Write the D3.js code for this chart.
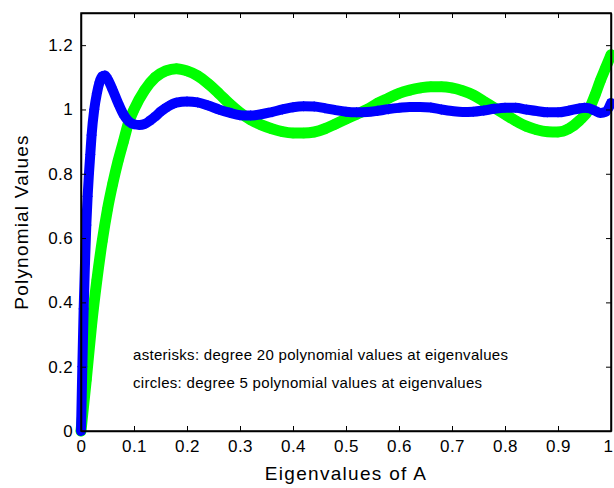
<!DOCTYPE html>
<html>
<head>
<meta charset="utf-8">
<script src="https://cdn.jsdelivr.net/npm/d3@7"></script>
<style>
  body { margin: 0; background: #fff; }
  text { font-family: "Liberation Sans", Arial, Helvetica, sans-serif; fill: #000; }
</style>
</head>
<body>
<svg id="chart" width="614" height="488"></svg>
<script>
// eigenvalue positions and polynomial values
const eigDeg5 = [0, 0.01, 0.02, 0.03, 0.04, 0.05, 0.06, 0.07, 0.08, 0.09, 0.1, 0.12, 0.14, 0.16, 0.18, 0.2,
  0.22, 0.24, 0.26, 0.28, 0.3, 0.32, 0.34, 0.36, 0.38, 0.4, 0.42, 0.44, 0.46, 0.48, 0.5, 0.52, 0.54,
  0.56, 0.58, 0.6, 0.62, 0.64, 0.66, 0.68, 0.7, 0.72, 0.74, 0.76, 0.78, 0.8, 0.82, 0.84, 0.86, 0.88,
  0.9, 0.92, 0.94, 0.96, 0.97, 0.98, 0.99, 1.0];
const valDeg5 = [0, 0.16, 0.33, 0.47, 0.59, 0.69, 0.77, 0.84, 0.9, 0.96, 1.0, 1.06, 1.1, 1.12, 1.127, 1.12,
  1.105, 1.08, 1.05, 1.018, 0.99, 0.968, 0.952, 0.94, 0.931, 0.927, 0.927, 0.93, 0.94, 0.955, 0.97, 0.985, 1.0,
  1.02, 1.035, 1.05, 1.06, 1.067, 1.071, 1.071, 1.067, 1.058, 1.045, 1.025, 1.005, 0.985, 0.965, 0.948, 0.937, 0.931,
  0.93, 0.94, 0.965, 1.005, 1.045, 1.09, 1.13, 1.17];

const eigDeg20 = [0, 0.0025, 0.005, 0.0075, 0.01, 0.0125, 0.015, 0.0175, 0.02, 0.025, 0.03, 0.035, 0.04, 0.045,
  0.05, 0.06, 0.07, 0.08, 0.09, 0.1, 0.11, 0.12, 0.13, 0.14, 0.15, 0.16, 0.17, 0.18, 0.2, 0.22, 0.24, 0.26,
  0.28, 0.3, 0.32, 0.34, 0.36, 0.38, 0.4, 0.42, 0.44, 0.46, 0.48, 0.5, 0.52, 0.54, 0.56, 0.58, 0.6, 0.62,
  0.64, 0.66, 0.68, 0.7, 0.72, 0.74, 0.76, 0.78, 0.8, 0.82, 0.84, 0.86, 0.88, 0.9, 0.92, 0.94, 0.95, 0.96,
  0.97, 0.98, 0.99, 1.0];
const valDeg20 = [0, 0.2, 0.38, 0.52, 0.64, 0.73, 0.8, 0.86, 0.92, 1.0, 1.05, 1.085, 1.103, 1.106,
  1.095, 1.06, 1.02, 0.985, 0.963, 0.954, 0.952, 0.955, 0.965, 0.978, 0.993, 1.005, 1.015, 1.021, 1.025, 1.022, 1.012, 1.0,
  0.99, 0.982, 0.981, 0.985, 0.992, 1.0, 1.007, 1.01, 1.009, 1.004, 0.998, 0.993, 0.991, 0.992, 0.996, 1.001, 1.005, 1.008,
  1.008, 1.006, 1.0, 0.995, 0.992, 0.993, 0.997, 1.002, 1.005, 1.005, 1.0, 0.995, 0.991, 0.991, 0.996, 1.003, 1.005, 1.003,
  0.996, 0.989, 0.993, 1.02];

const xTicks = [0, 0.1, 0.2, 0.3, 0.4, 0.5, 0.6, 0.7, 0.8, 0.9, 1];
const yTicks = [0, 0.2, 0.4, 0.6, 0.8, 1, 1.2];
const notes = ['asterisks: degree 20 polynomial values at eigenvalues',
  'circles: degree 5 polynomial values at eigenvalues'];

const svg = d3.select('#chart');
const mLeft = 81, mRight = 611, mTop = 13, mBottom = 431;

const x = d3.scaleLinear().domain([0, 1]).range([mLeft, mRight]);
const y = d3.scaleLinear().domain([0, 1.3]).range([mBottom, mTop]);

const fmt = d => d === 0 ? '0' : d === 1 ? '1' : d3.format('.1f')(d);

// series: thick band of overlapping markers
const series = [
  { xs: eigDeg5, ys: valDeg5, color: '#00ff00', width: 11, marker: 'circle' },
  { xs: eigDeg20, ys: valDeg20, color: '#0000ff', width: 10, marker: 'star' }
];

const line = d3.line()
  .x(d => x(d[0]))
  .y(d => y(d[1]))
  .curve(d3.curveMonotoneX);

const plot = svg.append('g');

series.forEach(s => {
  const pts = s.xs.map((v, i) => [v, s.ys[i]]);
  plot.append('path')
    .attr('d', line(pts))
    .attr('fill', 'none')
    .attr('stroke', s.color)
    .attr('stroke-width', s.width)
    .attr('stroke-linecap', 'round')
    .attr('stroke-linejoin', 'round');

  const g = plot.append('g');
  if (s.marker === 'circle') {
    g.selectAll('circle').data(pts).join('circle')
      .attr('cx', d => x(d[0]))
      .attr('cy', d => y(d[1]))
      .attr('r', 4.5)
      .attr('fill', 'none')
      .attr('stroke', s.color)
      .attr('stroke-width', 1.5);
  } else {
    const r = 5;
    const star = `M${-r},0L${r},0M0,${-r}L0,${r}` +
      `M${-r * 0.7},${-r * 0.7}L${r * 0.7},${r * 0.7}M${-r * 0.7},${r * 0.7}L${r * 0.7},${-r * 0.7}`;
    g.selectAll('path').data(pts).join('path')
      .attr('transform', d => `translate(${x(d[0])},${y(d[1])})`)
      .attr('d', star)
      .attr('fill', 'none')
      .attr('stroke', s.color)
      .attr('stroke-width', 1.2);
  }
});

// axes box with inward ticks on all sides
const tickLen = 5;
const styleLabels = g => g.selectAll('text')
  .attr('font-size', 17)
  .attr('font-family', null)
  .attr('letter-spacing', 0.4);

svg.append('g')
  .attr('transform', `translate(0,${mBottom})`)
  .call(d3.axisBottom(x).tickValues(xTicks).tickFormat(fmt).tickSizeInner(-tickLen).tickSizeOuter(0).tickPadding(9))
  .call(styleLabels)
  .call(g => g.selectAll('text').filter(d => d === 1).attr('dx', -3)); // keep last label inside the page
svg.append('g')
  .attr('transform', `translate(0,${mTop})`)
  .call(d3.axisTop(x).tickValues(xTicks).tickFormat('').tickSizeInner(-tickLen).tickSizeOuter(0));
svg.append('g')
  .attr('transform', `translate(${mLeft},0)`)
  .call(d3.axisLeft(y).tickValues(yTicks).tickFormat(fmt).tickSizeInner(-tickLen).tickSizeOuter(0).tickPadding(8))
  .call(styleLabels);
svg.append('g')
  .attr('transform', `translate(${mRight},0)`)
  .call(d3.axisRight(y).tickValues(yTicks).tickFormat('').tickSizeInner(-tickLen).tickSizeOuter(0));

svg.selectAll('.domain').attr('stroke', '#000').attr('stroke-width', 1.5);
svg.selectAll('.tick line').attr('stroke', '#000').attr('stroke-width', 1);

svg.append('rect')
  .attr('x', mLeft).attr('y', mTop)
  .attr('width', mRight - mLeft).attr('height', mBottom - mTop)
  .attr('fill', 'none').attr('stroke', '#000').attr('stroke-width', 1.5);

// annotations
svg.selectAll('text.note').data(notes).join('text')
  .attr('class', 'note')
  .attr('x', x(0.1) - 1)
  .attr('y', (d, i) => 360 + i * 28)
  .attr('font-size', 15)
  .attr('letter-spacing', 0.3)
  .text(d => d);

svg.append('text')
  .attr('x', (mLeft + mRight) / 2)
  .attr('y', 480)
  .attr('text-anchor', 'middle')
  .attr('font-size', 19)
  .attr('letter-spacing', 1.3)
  .text('Eigenvalues of A');

svg.append('text')
  .attr('transform', `translate(28,${(mTop + mBottom) / 2}) rotate(-90)`)
  .attr('text-anchor', 'middle')
  .attr('font-size', 19)
  .attr('letter-spacing', 1.2)
  .text('Polynomial Values');
</script>
</body>
</html>
